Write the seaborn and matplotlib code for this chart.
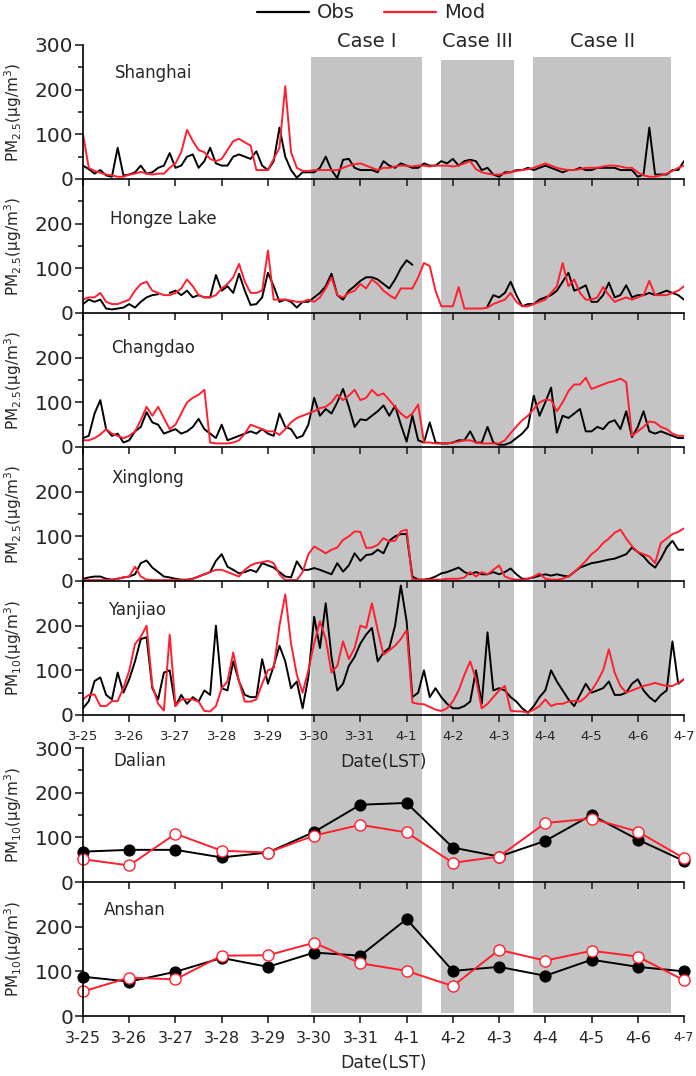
import numpy as np
import pandas as pd
import matplotlib
matplotlib.use('Agg')
import matplotlib.pyplot as plt
from matplotlib.lines import Line2D
import seaborn as sns

# ---- data (3-hourly, 3-25 00:00 ... 4-7 00:00) ----
nan = np.nan
sh_obs = [30, 22, 12, 20, 8, 5, 70, 8,
          10, 15, 30, 12, 15, 25, 30, 58,
          25, 30, 50, 55, 25, 40, 70, 35,
          30, 30, 50, 55, 50, 45, 62, 30,
          20, 40, 115, 50, 20, 3, 15, 15,
          15, 25, 50, 20, 2, 43, 45, 25,
          20, 20, 20, 15, 40, 30, 25, 35,
          30, 25, 25, 35, 30, 30, 40, 35,
          45, 30, 40, 43, 40, 20, 25, 10,
          5, 15, 15, 20, 20, 25, 20, 25,
          30, 25, 20, 15, 20, 20, 25, 20,
          20, 25, 25, 25, 25, 20, 20, 20,
          5, 10, 115, 10, 10, 10, 20, 20,
          40]
sh_mod = [100, 25, 18, 14, 10, 8, 5, 5,
          10, 12, 16, 12, 10, 12, 12, 25,
          35, 60, 110, 85, 65, 60, 45, 40,
          45, 65, 85, 90, 82, 75, 20, 20,
          20, 45, 70, 208, 60, 25, 18, 18,
          20, 20, 20, 20, 20, 25, 30, 33,
          35, 30, 25, 20, 25, 25, 28, 30,
          30, 28, 30, 30, 28, 30, 30, 30,
          28, 30, 35, 40, 22, 15, 12, 10,
          10, 12, 15, 18, 20, 22, 25, 30,
          35, 30, 25, 22, 20, 20, 22, 25,
          25, 25, 28, 30, 30, 28, 25, 25,
          15, 8, 5, 5, 8, 12, 18, 25,
          30]
hz_obs = [20, 30, 25, 30, 10, 8, 10, 12,
          20, 12, 25, 35, 40, 42, nan, 45,
          50, 40, 50, 35, 40, 35, 35, 85,
          50, 60, 45, 88, 50, 18, 20, 35,
          90, 60, 25, 30, 25, 12, 25, 25,
          35, 45, 60, 88, 40, 30, 50, 60,
          72, 80, 80, 75, 65, 55, 75, 100,
          118, 108, nan, nan, nan, nan, nan, nan,
          nan, nan, nan, nan, nan, nan, 15, 40,
          35, 45, 70, 40, 15, 20, 20, 30,
          35, 40, 50, 70, 90, 50, 55, 62,
          25, 25, 40, 68, 35, 40, 62, 35,
          40, 40, 45, 40, 45, 50, 45, 40,
          30]
hz_mod = [30, 35, 35, 45, 25, 20, 20, 25,
          30, 50, 65, 70, 50, 45, 40, 40,
          45, 55, 75, 60, 40, 35, 35, 40,
          55, 65, 80, 110, 70, 45, 45, 50,
          140, 30, 30, 30, 28, 25, 25, 30,
          25, 35, 55, 80, 40, 35, 45, 50,
          65, 55, 75, 65, 50, 40, 32, 55,
          55, 55, 80, 112, 105, 50, 15, 15,
          15, 58, 10, 10, 10, 10, 12, 20,
          25, 30, 45, 25, 15, 15, 20, 25,
          30, 45, 60, 112, 60, 75, 45, 30,
          30, 35, 58, 40, 25, 30, 35, 30,
          35, 40, 72, 40, 40, 40, 45, 50,
          60]
cd_obs = [20, 25, 75, 105, 40, 25, 30, 10,
          15, 35, 45, 78, 55, 50, 30, 35,
          40, 30, 35, 45, 63, 40, 30, 20,
          50, 15, 20, 25, 30, 35, 30, 40,
          30, 25, 75, 45, 40, 20, 25, 50,
          110, 70, 85, 75, 100, 130, 90, 45,
          62, 60, 70, 80, 93, 70, 92, 50,
          12, 70, 15, 10, 55, 10, 8, 8,
          10, 15, 15, 35, 10, 10, 45, 10,
          5, 5, 10, 20, 30, 45, 115, 70,
          100, 133, 32, 70, 65, 75, 85, 35,
          35, 45, 40, 55, 60, 40, 80, 22,
          45, 80, 35, 30, 35, 30, 25, 20,
          20]
cd_mod = [15, 15, 20, 28, 40, 30, 25, 20,
          25, 35, 60, 90, 70, 90, 65, 40,
          50, 75, 100, 110, 117, 128, 10, 8,
          8, 8, 10, 15, 30, 50, 45, 40,
          35, 35, 27, 40, 55, 65, 70, 75,
          80, 87, 90, 100, 117, 105, 115, 128,
          105, 110, 128, 115, 120, 105, 90, 75,
          65, 75, 95, 10, 10, 8, 8, 8,
          10, 12, 15, 15, 10, 8, 8, 8,
          8, 15, 31, 46, 60, 70, 85, 100,
          106, 105, 80, 100, 125, 140, 140, 155,
          130, 135, 140, 145, 148, 153, 145, 25,
          35, 45, 57, 55, 45, 40, 30, 25,
          25]
xl_obs = [5, 8, 10, 10, 5, 3, 5, 8,
          10, 15, 40, 46, 30, 20, 10, 8,
          5, 3, 3, 5, 10, 15, 20, 45,
          60, 32, 25, 17, 20, 25, 20, 40,
          35, 30, 20, 10, 8, 44, 25, 25,
          29, 25, 20, 15, 40, 21, 35, 62,
          45, 58, 60, 70, 62, 90, 100, 105,
          105, 10, 3, 3, 5, 10, 17, 20,
          25, 30, 20, 15, 20, 15, 15, 20,
          15, 20, 28, 15, 5, 5, 8, 12,
          15, 12, 15, 12, 10, 20, 30, 35,
          40, 42, 45, 48, 50, 55, 60, 75,
          65, 55, 40, 30, 50, 75, 90, 70,
          70]
xl_mod = [3, 2, 2, 2, 2, 3, 5, 8,
          10, 32, 10, 3, 2, 2, 2, 2,
          2, 2, 2, 5, 10, 15, 20, 25,
          25, 20, 15, 10, 25, 35, 40, 42,
          45, 40, 15, 2, 2, 2, 20, 60,
          77, 70, 62, 70, 75, 92, 100, 111,
          110, 74, 75, 81, 96, 89, 90, 111,
          115, 3, 3, 3, 3, 3, 3, 5,
          5, 5, 8, 20, 10, 20, 15, 25,
          35, 10, 5, 3, 3, 5, 10, 17,
          5, 3, 3, 5, 10, 20, 32, 45,
          60, 70, 85, 95, 108, 115, 95, 78,
          65, 60, 55, 40, 85, 95, 105, 110,
          118]
yj_obs = [15, 31, 76, 84, 45, 35, 95, 50,
          80, 120, 170, 174, 60, 35, 95, 100,
          20, 45, 25, 40, 30, 55, 45, 200,
          60, 55, 120, 75, 45, 40, 40, 125,
          70, 110, 155, 120, 60, 75, 15, 85,
          220, 150, 250, 130, 55, 70, 110, 130,
          160, 180, 195, 120, 140, 150, 200, 290,
          210, 40, 50, 100, 40, 60, 40, 25,
          15, 15, 20, 30, 100, 25, 185, 55,
          60, 55, 40, 30, 15, 5, 20, 40,
          55, 100, 75, 55, 35, 20, 45, 70,
          50, 55, 60, 75, 45, 45, 50, 70,
          80, 55, 40, 30, 45, 55, 165, 70,
          80]
yj_mod = [35, 45, 46, 20, 20, 31, 31, 61,
          99, 159, 175, 200, 65, 25, 10, 180,
          20, 35, 35, 35, 30, 9, 8, 20,
          60, 75, 140, 75, 30, 30, 35, 70,
          100, 105, 200, 270, 160, 90, 50, 100,
          160, 210, 170, 95, 110, 165, 125, 150,
          200, 195, 250, 190, 135, 145, 155, 170,
          190, 28, 25, 24, 18, 12, 9, 15,
          30, 55, 90, 120, 80, 15, 25, 40,
          55, 65, 10, 8, 8, 5, 12, 20,
          35, 20, 25, 25, 30, 32, 30, 40,
          55, 75, 100, 147, 95, 65, 50, 55,
          60, 65, 68, 72, 68, 65, 65, 72,
          80]

# daily PM10
dalian_obs = [68, 72, 72, 55, 66, 112, 173, 177, 77, 57, 92, 150, 95, 47]
dalian_mod = [51, 37, 108, 70, 66, 104, 128, 111, 43, 57, 132, 142, 113, 53]
anshan_obs = [88, 77, 99, 130, 110, 142, 135, 217, 101, 110, 90, 126, 110, 100]
anshan_mod = [55, 86, 82, 135, 136, 164, 118, 101, 67, 148, 124, 146, 133, 80]

dates = ['3-25', '3-26', '3-27', '3-28', '3-29', '3-30', '3-31',
         '4-1', '4-2', '4-3', '4-4', '4-5', '4-6', '4-7']
cases = ['Case I', 'Case III', 'Case II']
case_start = [4.93, 7.74, 9.74]   # days after 3-25 00:00
case_end = [7.33, 9.33, 12.72]

PM25 = 'PM$_{2.5}$(μg/m$^{3}$)'
PM10 = 'PM$_{10}$(μg/m$^{3}$)'
hourly = [('Shanghai', sh_obs, sh_mod, PM25),
          ('Hongze Lake', hz_obs, hz_mod, PM25),
          ('Changdao', cd_obs, cd_mod, PM25),
          ('Xinglong', xl_obs, xl_mod, PM25),
          ('Yanjiao', yj_obs, yj_mod, PM10)]
daily = [('Dalian', dalian_obs, dalian_mod), ('Anshan', anshan_obs, anshan_mod)]

RED = '#ff1f2f'
SHADE = '#c4c4c4'

sns.set_style('ticks')
plt.rcParams['font.family'] = ['DejaVu Sans']
plt.rcParams['mathtext.fontset'] = 'dejavusans'

W, H = 696, 1076
fig = plt.figure(figsize=(W / 100, H / 100), dpi=100)
L, R = 83, 684


def add_panel(top, bottom):
    ax = fig.add_axes([L / W, 1 - bottom / H, (R - L) / W, (bottom - top) / H])
    ax.set_facecolor('none')
    ax.set_zorder(1)
    return ax


def draw(ax, t, y, color):
    s = pd.Series(y, index=t, dtype=float)
    ok = s.notna()
    seg = (~ok).cumsum()
    for _, part in s[ok].groupby(seg[ok]):
        sns.lineplot(x=part.index.values, y=part.values, ax=ax, color=color,
                     lw=1.4, estimator=None, sort=False, legend=False)


def style(ax, y_top_label, labels, lsize):
    ax.set_xlim(0, 13)
    ax.set_ylim(0, 300)
    ax.set_xticks(range(14))
    if labels:
        ax.set_xticklabels(dates, fontsize=lsize)
    else:
        ax.set_xticklabels([])
    ax.set_yticks([0, 100, 200, 300] if y_top_label else [0, 100, 200])
    ax.set_yticks([50, 150, 250], minor=True)
    ax.tick_params(axis='y', which='major', direction='out', length=6, width=1.2,
                   labelsize=14.5, pad=1)
    ax.tick_params(axis='y', which='minor', direction='out', length=3.5, width=1.2)
    ax.tick_params(axis='x', direction='out', length=5, width=1.2, pad=6)
    sns.despine(ax=ax)
    for sp in ('left', 'bottom'):
        ax.spines[sp].set_linewidth(1.2)
        ax.spines[sp].set_color('black')
    ax.set_xlabel('')


# shaded case periods, shared by all panels
bg_top, bg_bot = 45, 1016
bg = fig.add_axes([L / W, 1 - bg_bot / H, (R - L) / W, (bg_bot - bg_top) / H])
bg.set_xlim(0, 13)
bg.set_ylim(bg_bot, bg_top)
bg.axis('off')
bg.set_zorder(0)
for name, x0, x1 in zip(cases, case_start, case_end):
    ytop = 60 if name == 'Case III' else 57
    bg.axvspan(x0, x1, ymin=(bg_bot - 1013) / (bg_bot - bg_top),
               ymax=(bg_bot - ytop) / (bg_bot - bg_top), color=SHADE, lw=0)
    bg.text((x0 + x1) / 2, 41, name, ha='center', va='center', fontsize=14)

t = np.arange(len(sh_obs)) * 0.125
name_pos = [(0.053, 0.79), (0.045, 0.70), (0.047, 0.74), (0.047, 0.77), (0.042, 0.78)]
for i, (name, obs, mod, ylab) in enumerate(hourly):
    top = 45 + 134 * i
    ax = add_panel(top, top + 134)
    draw(ax, t, obs, 'black')
    draw(ax, t, mod, RED)
    style(ax, i == 0, i == 4, 9.5)
    ax.set_ylabel(ylab, fontsize=11)
    ax.yaxis.set_label_coords(-0.098, 0.5)
    ax.text(*name_pos[i], name, transform=ax.transAxes, fontsize=12, va='center')

d = np.arange(len(dates))
for j, (name, obs, mod) in enumerate(daily):
    top = 748 + 134 * j
    ax = add_panel(top, top + 134)
    sns.lineplot(x=d, y=obs, ax=ax, color='black', lw=1.4, marker='o', ms=8,
                 mfc='black', mec='black', estimator=None, legend=False)
    sns.lineplot(x=d, y=mod, ax=ax, color=RED, lw=1.4, marker='o', ms=8,
                 mfc='white', mec=RED, mew=1.0, estimator=None, legend=False)
    style(ax, j == 0, j == 1, 11.5)
    for line in ax.lines:
        line.set_clip_on(False)
    ax.set_ylabel(PM10, fontsize=11)
    ax.yaxis.set_label_coords(-0.098, 0.5)
    ax.text(0.05 if j == 0 else 0.035, 0.90 if j == 0 else 0.79, name,
            transform=ax.transAxes, fontsize=12, va='center')
    if j == 1:
        ax.get_xticklabels()[-1].set_fontsize(9)

fig.text(383 / W, 1 - 762 / H, 'Date(LST)', ha='center', va='center', fontsize=12.5)
fig.text(384 / W, 1 - 1063 / H, 'Date(LST)', ha='center', va='center', fontsize=12.5)

handles = [Line2D([], [], color='black', lw=1.6), Line2D([], [], color=RED, lw=1.6)]
fig.legend(handles, ['Obs', 'Mod'], loc='center', bbox_to_anchor=(371 / W, 1 - 13 / H),
           ncol=2, frameon=False, fontsize=14, handlelength=2.7, handletextpad=0.4,
           columnspacing=1.5, borderaxespad=0)

fig.savefig('out.png', dpi=100)
